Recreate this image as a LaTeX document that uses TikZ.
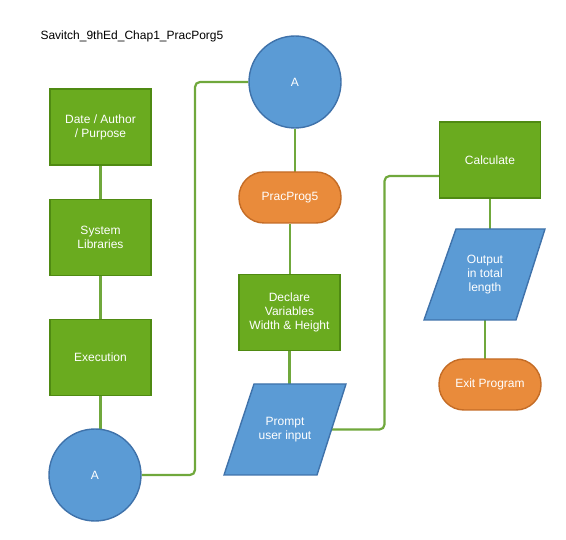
\documentclass[tikz,border=0pt]{standalone}
\usepackage{fontspec}
\setmainfont{Liberation Sans}
\usetikzlibrary{backgrounds,calc}
\definecolor{gfill}{HTML}{6AAB1F}
\definecolor{gline}{HTML}{4F8A12}
\definecolor{bfill}{HTML}{5B9BD5}
\definecolor{bline}{HTML}{3F72AA}
\definecolor{ofill}{HTML}{E98B3B}
\definecolor{oline}{HTML}{C46C26}
\definecolor{link}{HTML}{70A83C}
\begin{document}
\begin{tikzpicture}[x=1pt,y=-1pt,
  txt/.style={text=white,align=center,font=\fontsize{12}{14}\selectfont},
  proc/.style={txt,rectangle,draw=gline,fill=gfill,line width=1.4pt,minimum width=101pt,minimum height=76pt,inner sep=0pt},
  conn/.style={txt,circle,draw=bline,fill=bfill,line width=1.4pt,minimum size=92pt,inner sep=0pt},
  term/.style={txt,rectangle,rounded corners=25pt,draw=oline,fill=ofill,line width=1.4pt,minimum width=102pt,minimum height=51pt,inner sep=0pt},
  io/.style={draw=bline,fill=bfill,line width=1.4pt},
  linkline/.style={draw=link,line width=2.2pt,rounded corners=5pt}]
\useasboundingbox (0,0) rectangle (566,540);
\node[anchor=base west,font=\fontsize{12}{14}\selectfont] (title) at (37,40) {Savitch\_9thEd\_Chap1\_PracPorg5};

\node[proc] (date) at (100.5,127) {Date / Author\\/ Purpose};
\node[proc] (sys) at (100.5,237.5) {System\\Libraries};
\node[proc] (exe) at (100.5,357.5) {Execution};
\node[conn] (A1) at (95,475) {A};
\node[conn] (A2) at (295,82) {A};
\node[term] (pp) at (290,197.5) {PracProg5};
\node[proc] (decl) at (289.5,312.5) {Declare\\Variables\\Width \& Height};
\draw[io] (254,384) -- (346,384) -- (317,475) -- (224,475) -- cycle;
\node[txt] (prompt) at (285,430) {Prompt\\user input};
\node[proc] (calc) at (490,160) {Calculate};
\draw[io] (456,229) -- (545,229) -- (516,320) -- (424,320) -- cycle;
\node[txt] (out) at (485,275) {Output\\in total\\length};
\node[term] (exit) at (490,384.5) {Exit Program};

\coordinate (j1) at (195,0);
\coordinate (j2) at (384.5,0);
\coordinate (pr) at (331.5,429.5);
\coordinate (cin) at (439,176);

\begin{scope}[on background layer]
\draw[linkline] (date) -- (sys);
\draw[linkline] (sys) -- (exe);
\draw[linkline] (exe) -- (exe |- A1);
\draw[linkline] (A1.east) -- (A1.east -| j1) -- (A2.west -| j1) -- (A2.west);
\draw[linkline] (A2) -- (A2 |- pp);
\draw[linkline] (pp) -- (pp |- decl);
\draw[linkline] (decl) -- (decl |- prompt);
\draw[linkline] (pr) -- (pr -| j2) -- (cin -| j2) -- (cin);
\draw[linkline] (calc) -- (calc |- out);
\draw[linkline] (out) -- (out |- exit);
\end{scope}
\end{tikzpicture}
\end{document}
